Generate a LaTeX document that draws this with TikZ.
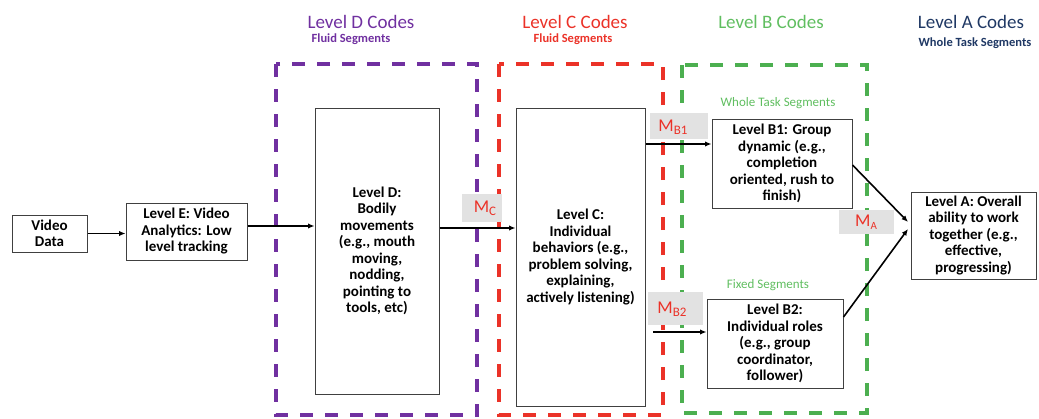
\documentclass[tikz,border=0pt]{standalone}
\usepackage{fontspec}
\setmainfont{Carlito}
\usetikzlibrary{arrows.meta,calc}
\definecolor{dpurple}{RGB}{112,48,160}
\definecolor{dred}{RGB}{235,50,40}
\definecolor{dgreen}{RGB}{76,175,80}
\definecolor{tgreen}{RGB}{96,190,96}
\definecolor{navy}{RGB}{31,56,100}
\definecolor{lblgrey}{RGB}{226,226,226}
\begin{document}
\begin{tikzpicture}[x=1pt,y=-1pt,
  box/.style={draw=black!75,line width=1pt,align=center,inner sep=0pt,
    font=\fontsize{15}{16.5}\selectfont\bfseries},
  frame/.style={line width=3.5pt,dash pattern=on 13pt off 12pt},
  conn/.style={line width=1.6pt,-{Latex[length=6.5pt,width=5.5pt]}},
  greylbl/.style={fill=lblgrey,draw=none,inner sep=0pt},
  mtext/.style={text=dred,inner sep=0pt,font=\fontsize{18}{18}\selectfont},
  title/.style={inner sep=0pt,font=\fontsize{19}{19}\selectfont},
  subtitle/.style={inner sep=0pt,font=\fontsize{12.5}{12.5}\selectfont\bfseries},
  seglbl/.style={inner sep=0pt,text=tgreen,font=\fontsize{13}{13}\selectfont}
]
\useasboundingbox (0,0) rectangle (1039,418);

% titles
\node[title,text=dpurple] (tD) at (361,22) {Level D Codes};
\node[subtitle,text=dpurple] (sD) at (351,39) {Fluid Segments};
\node[title,text=dred] (tC) at (575,22) {Level C Codes};
\node[subtitle,text=dred] (sC) at (573,39) {Fluid Segments};
\node[title,text=tgreen] (tB) at (771,22) {Level B Codes};
\node[title,text=navy] (tA) at (971,22) {Level A Codes};
\node[subtitle,text=navy] (sA) at (975,43) {Whole Task Segments};

% dashed frames
\draw[frame,dpurple] (276,64) rectangle (477,415);
\draw[frame,dred] (499,64) rectangle (663,415);
\draw[frame,dgreen] (682,65) rectangle (867,413);

% grey label backgrounds
\node[greylbl,minimum width=40pt,minimum height=28pt] (gC) at (482,208) {};
\node[greylbl,minimum width=58pt,minimum height=26pt] (gB1) at (679,126) {};
\node[greylbl,minimum width=55pt,minimum height=33pt] (gB2) at (675.5,308.5) {};
\node[greylbl,minimum width=55pt,minimum height=24pt] (gA) at (866.5,222) {};

% M labels
\node[mtext] (mC) at (485,208) {M\raisebox{-3pt}{\fontsize{13}{13}\selectfont C}};
\node[mtext] (mB1) at (673,127) {M\raisebox{-3pt}{\fontsize{13}{13}\selectfont B1}};
\node[mtext] (mB2) at (672,309) {M\raisebox{-3pt}{\fontsize{13}{13}\selectfont B2}};
\node[mtext] (mA) at (866,222) {M\raisebox{-3pt}{\fontsize{11}{11}\selectfont A}};

% segment labels
\node[seglbl] (wts) at (778,103) {Whole Task Segments};
\node[seglbl] (fs) at (768,285) {Fixed Segments};

% boxes
\node[box,minimum width=75pt,minimum height=37pt] (video) at (49.5,233.5) {Video\\Data};
\node[box,minimum width=121pt,minimum height=57pt] (E) at (186.5,231.5) {Level E: Video\\Analytics: Low\\level tracking};
\node[box,minimum width=124pt,minimum height=286pt] (D) at (377,251) {Level D:\\Bodily\\movements\\(e.g., mouth\\moving,\\nodding,\\pointing to\\tools, etc)};
\node[box,minimum width=129pt,minimum height=298pt] (C) at (580.5,257) {Level C:\\Individual\\behaviors (e.g.,\\problem solving,\\explaining,\\actively listening)};
\node[box,minimum width=140pt,minimum height=89pt] (B1) at (782,163.5) {Level B1: Group\\dynamic (e.g.,\\completion\\oriented, rush to\\finish)};
\node[box,minimum width=136pt,minimum height=89pt] (B2) at (775,343.5) {Level B2:\\Individual roles\\(e.g., group\\coordinator,\\follower)};
\node[box,minimum width=125pt,minimum height=87pt] (A) at (973.5,235.5) {Level A: Overall\\ability to work\\together (e.g.,\\effective,\\progressing)};

% helper coordinates
\coordinate (yED) at (0,226);
\coordinate (yDC) at (0,228);
\coordinate (yCB) at (0,144);
\coordinate (b2start) at (653,332);
\coordinate (b1out) at (0,165);
\coordinate (b2out) at (0,317);
\coordinate (ain1) at (908,222);
\coordinate (ain2) at (908,229);

% connectors
\draw[conn] (video.east) -- (video.east -| E.west);
\draw[conn] (E.east |- yED) -- (D.west |- yED);
\draw[conn] (D.east |- yDC) -- (C.west |- yDC);
\draw[conn] (C.east |- yCB) -- (B1.west |- yCB);
\draw[conn] (b2start) -- (B2.west |- b2start);
\draw[conn] (B1.east |- b1out) -- (ain1);
\draw[conn] (B2.east |- b2out) -- (ain2);
\end{tikzpicture}
\end{document}
